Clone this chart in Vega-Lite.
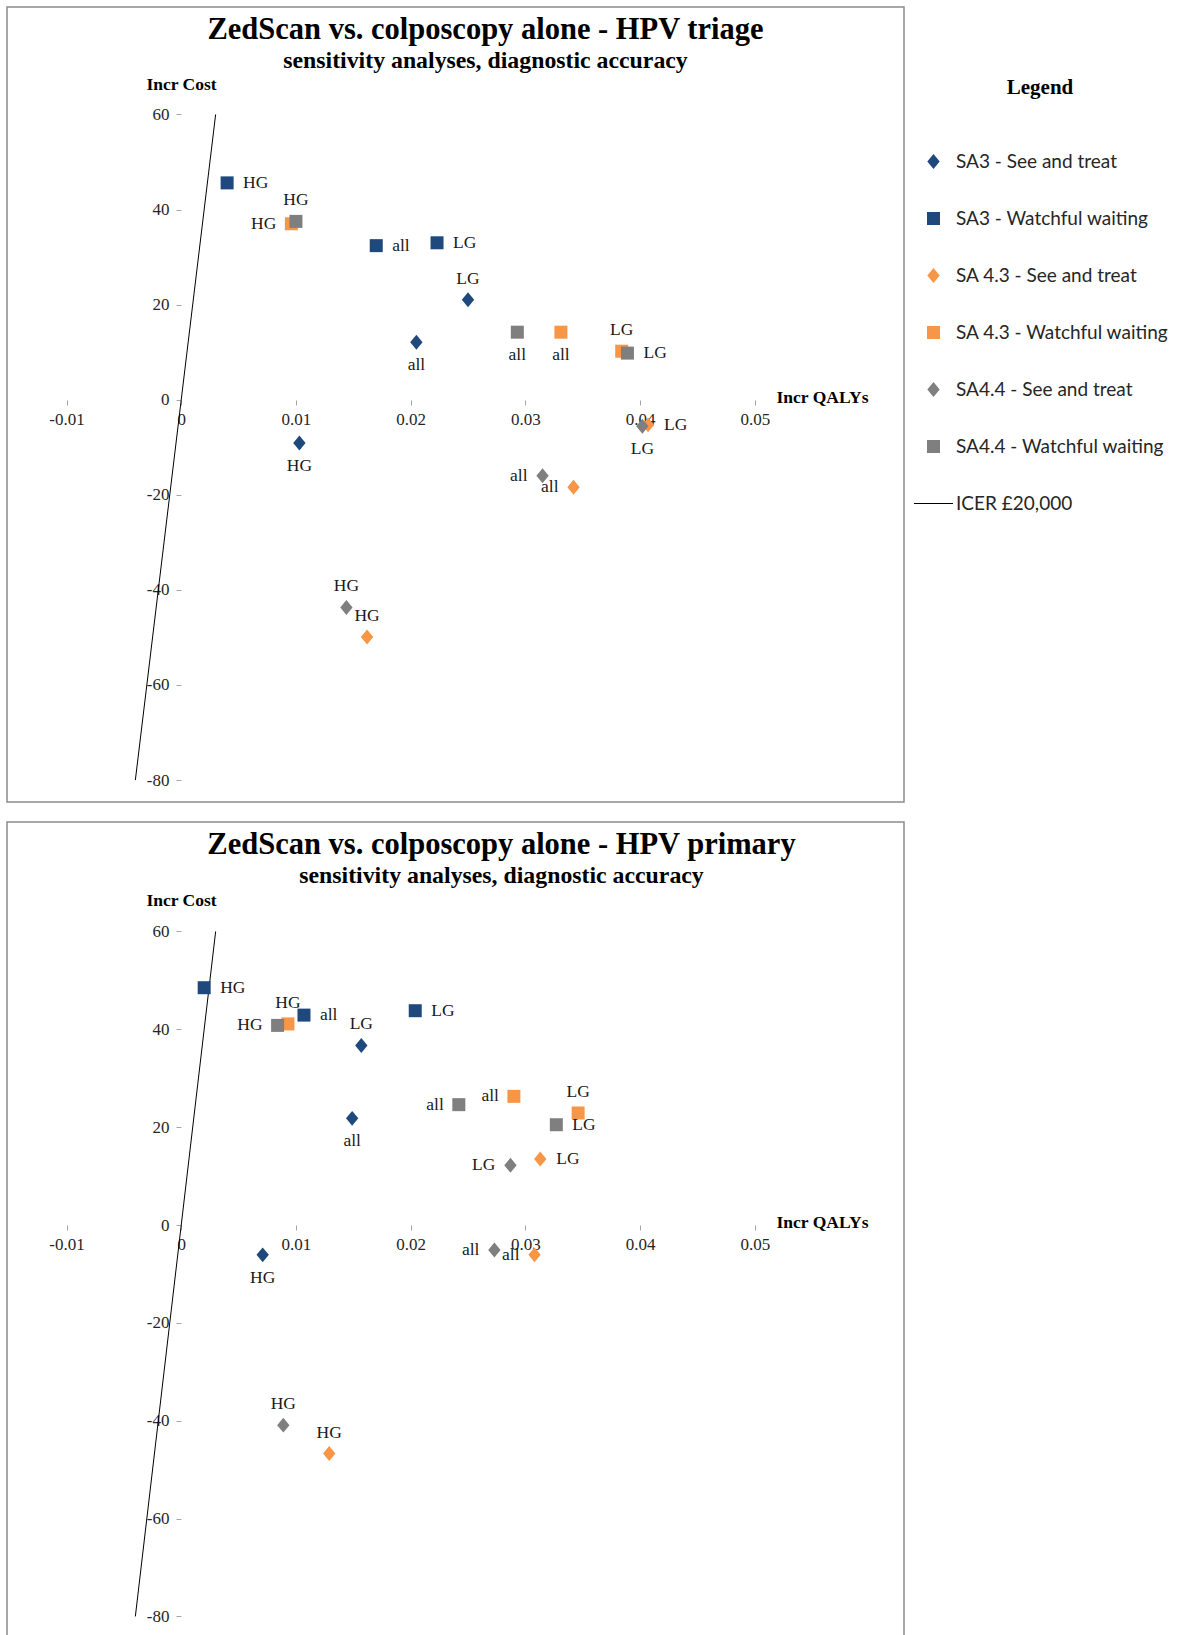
{
  "$schema": "https://vega.github.io/schema/vega-lite/v6.json",
  "background": "white",
  "padding": {"left": 6, "top": 6, "right": 5, "bottom": 0},
  "spacing": 18,
  "datasets": {
    "triage": [
      {"series": "SA3 - See and treat", "grade": "LG", "qaly": 0.0250, "cost": 21.0},
      {"series": "SA3 - See and treat", "grade": "all", "qaly": 0.0205, "cost": 12.1},
      {"series": "SA3 - See and treat", "grade": "HG", "qaly": 0.0103, "cost": -9.1},
      {"series": "SA3 - Watchful waiting", "grade": "HG", "qaly": 0.0040, "cost": 45.6},
      {"series": "SA3 - Watchful waiting", "grade": "all", "qaly": 0.0170, "cost": 32.4},
      {"series": "SA3 - Watchful waiting", "grade": "LG", "qaly": 0.0223, "cost": 33.0},
      {"series": "SA 4.3 - See and treat", "grade": "LG", "qaly": 0.0407, "cost": -5.3},
      {"series": "SA 4.3 - See and treat", "grade": "all", "qaly": 0.0342, "cost": -18.4},
      {"series": "SA 4.3 - See and treat", "grade": "HG", "qaly": 0.0162, "cost": -49.9},
      {"series": "SA 4.3 - Watchful waiting", "grade": "HG", "qaly": 0.0096, "cost": 37.0},
      {"series": "SA 4.3 - Watchful waiting", "grade": "all", "qaly": 0.0331, "cost": 14.2},
      {"series": "SA 4.3 - Watchful waiting", "grade": "LG", "qaly": 0.0384, "cost": 10.2},
      {"series": "SA4.4 - See and treat", "grade": "LG", "qaly": 0.0402, "cost": -5.6},
      {"series": "SA4.4 - See and treat", "grade": "all", "qaly": 0.0315, "cost": -16.0},
      {"series": "SA4.4 - See and treat", "grade": "HG", "qaly": 0.0144, "cost": -43.7},
      {"series": "SA4.4 - Watchful waiting", "grade": "HG", "qaly": 0.0100, "cost": 37.5},
      {"series": "SA4.4 - Watchful waiting", "grade": "all", "qaly": 0.0293, "cost": 14.2},
      {"series": "SA4.4 - Watchful waiting", "grade": "LG", "qaly": 0.0389, "cost": 9.8}
    ],
    "primary": [
      {"series": "SA3 - See and treat", "grade": "LG", "qaly": 0.0157, "cost": 36.7},
      {"series": "SA3 - See and treat", "grade": "all", "qaly": 0.0149, "cost": 21.8},
      {"series": "SA3 - See and treat", "grade": "HG", "qaly": 0.0071, "cost": -6.1},
      {"series": "SA3 - Watchful waiting", "grade": "HG", "qaly": 0.0020, "cost": 48.5},
      {"series": "SA3 - Watchful waiting", "grade": "all", "qaly": 0.0107, "cost": 42.9},
      {"series": "SA3 - Watchful waiting", "grade": "LG", "qaly": 0.0204, "cost": 43.8},
      {"series": "SA 4.3 - See and treat", "grade": "LG", "qaly": 0.0313, "cost": 13.5},
      {"series": "SA 4.3 - See and treat", "grade": "all", "qaly": 0.0308, "cost": -6.1},
      {"series": "SA 4.3 - See and treat", "grade": "HG", "qaly": 0.0129, "cost": -46.7},
      {"series": "SA 4.3 - Watchful waiting", "grade": "HG", "qaly": 0.0093, "cost": 41.1},
      {"series": "SA 4.3 - Watchful waiting", "grade": "all", "qaly": 0.0290, "cost": 26.3},
      {"series": "SA 4.3 - Watchful waiting", "grade": "LG", "qaly": 0.0346, "cost": 22.9},
      {"series": "SA4.4 - See and treat", "grade": "LG", "qaly": 0.0287, "cost": 12.2},
      {"series": "SA4.4 - See and treat", "grade": "all", "qaly": 0.0273, "cost": -5.1},
      {"series": "SA4.4 - See and treat", "grade": "HG", "qaly": 0.0089, "cost": -40.9},
      {"series": "SA4.4 - Watchful waiting", "grade": "HG", "qaly": 0.0084, "cost": 40.8},
      {"series": "SA4.4 - Watchful waiting", "grade": "all", "qaly": 0.0242, "cost": 24.6},
      {"series": "SA4.4 - Watchful waiting", "grade": "LG", "qaly": 0.0327, "cost": 20.5}
    ],
    "icer": [
      {"qaly": -0.004, "cost": -80},
      {"qaly": 0.003, "cost": 60}
    ]
  },
  "config": {
    "view": {"stroke": "#8c8c8c", "strokeWidth": 1.5},
    "axis": {
      "domain": false, "grid": false, "ticks": true, "tickColor": "#a6a6a6", "tickSize": 5, "tickWidth": 1,
      "labelFont": "Liberation Serif", "labelFontSize": 17, "labelColor": "#262626",
      "labelOverlap": false, "labelFlush": false,
      "titleFont": "Liberation Serif", "titleFontSize": 17.5, "titleFontWeight": "bold", "titleColor": "#000000"
    },
    "axisX": {"labelPadding": 6},
    "axisY": {"labelPadding": 7},
    "legend": {
      "padding": 0,
      "titleFont": "Liberation Serif", "titleFontSize": 21, "titleFontWeight": "bold", "titleColor": "#000000",
      "titlePadding": 54, "titleAnchor": "middle",
      "labelFont": "Lato", "labelFontSize": 19, "labelColor": "#262626", "labelOffset": 13, "labelLimit": 400,
      "rowPadding": 37, "symbolSize": 169, "symbolOpacity": 1, "symbolStrokeWidth": 0
    }
  },
  "resolve": {"scale": {"x": "independent", "y": "independent", "color": "shared", "shape": "shared"}},
  "vconcat": [
    {
      "width": 897,
      "height": 795,
      "title": {
        "text": "ZedScan vs. colposcopy alone - HPV triage",
        "subtitle": "sensitivity analyses, diagnostic accuracy",
        "anchor": "middle", "frame": "group", "dx": 30, "offset": -66,
        "font": "Liberation Serif", "fontSize": 30.5, "fontWeight": "bold", "color": "#000000",
        "subtitleFont": "Liberation Serif", "subtitleFontSize": 23.8, "subtitleFontWeight": "bold", "subtitleColor": "#000000",
        "subtitlePadding": 4
      },
      "data": {"name": "triage"},
      "encoding": {
        "x": {
          "field": "qaly", "type": "quantitative",
          "scale": {"domain": [-0.01519, 0.06301], "nice": false, "zero": false},
          "axis": {
            "offset": -402, "values": [-0.01, 0, 0.01, 0.02, 0.03, 0.04, 0.05],
            "labelExpr": "datum.value == 0 ? '0' : (datum.value < 0 ? '-' : '') + format(abs(datum.value), '.2f')",
            "title": "Incr QALYs", "titleAngle": 0, "titleX": 815, "titleY": -3, "titleAlign": "center", "titleBaseline": "middle"
          }
        },
        "y": {
          "field": "cost", "type": "quantitative",
          "scale": {"domain": [-84.61, 82.59], "nice": false, "zero": false},
          "axis": {
            "offset": -174, "values": [-80, -60, -40, -20, 0, 20, 40, 60],
            "labelExpr": "(datum.value < 0 ? '-' : '') + abs(datum.value)",
            "title": "Incr Cost", "titleAngle": 0, "titleX": 0, "titleY": 77, "titleAlign": "center", "titleBaseline": "middle"
          }
        }
      },
      "layer": [
        {
          "data": {"values": [{}]},
          "mark": {"type": "rule", "color": "#a6a6a6", "strokeWidth": 1},
          "encoding": {"x": {"datum": -0.01}, "x2": {"datum": 0.05}, "y": {"datum": 0}}
        },
        {
          "data": {"values": [{}]},
          "mark": {"type": "rule", "color": "#a6a6a6", "strokeWidth": 1},
          "encoding": {"x": {"datum": 0}, "y": {"datum": -80}, "y2": {"datum": 60}}
        },
        {
          "data": {"name": "icer"},
          "mark": {"type": "line", "color": "#000000", "strokeWidth": 1},
          "encoding": {}
        },
        {
          "mark": {"type": "point", "filled": true, "size": 169, "opacity": 1},
          "encoding": {
            "color": {
              "field": "series", "type": "nominal", "title": "Legend",
              "scale": {
                "domain": ["SA3 - See and treat", "SA3 - Watchful waiting", "SA 4.3 - See and treat", "SA 4.3 - Watchful waiting", "SA4.4 - See and treat", "SA4.4 - Watchful waiting", "ICER £20,000"],
                "range": ["#1F497D", "#1F497D", "#F79646", "#F79646", "#7F7F7F", "#7F7F7F", "#000000"]
              },
              "legend": {"orient": "none", "legendX": 917, "legendY": 70, "encode": {"title": {"update": {"dx": {"value": -6}}}}}
            },
            "shape": {
              "field": "series", "type": "nominal", "title": "Legend",
              "scale": {
                "domain": ["SA3 - See and treat", "SA3 - Watchful waiting", "SA 4.3 - See and treat", "SA 4.3 - Watchful waiting", "SA4.4 - See and treat", "SA4.4 - Watchful waiting", "ICER £20,000"],
                "range": ["M0,-1.15L0.95,0L0,1.15L-0.95,0Z", "square", "M0,-1.15L0.95,0L0,1.15L-0.95,0Z", "square", "M0,-1.15L0.95,0L0,1.15L-0.95,0Z", "square", "M-3,-0.08L3,-0.08L3,0.08L-3,0.08Z"]
              },
              "legend": {"orient": "none", "legendX": 917, "legendY": 70, "encode": {"title": {"update": {"dx": {"value": -6}}}}}
            }
          }
        },
        {
          "transform": [{"filter": "indexof(['SA3 - Watchful waiting|HG','SA3 - Watchful waiting|all','SA3 - Watchful waiting|LG','SA4.4 - Watchful waiting|LG','SA 4.3 - See and treat|LG'], datum.series + '|' + datum.grade) >= 0"}],
          "mark": {"type": "text", "align": "left", "baseline": "middle", "dx": 16, "font": "Liberation Serif", "fontSize": 17.5, "color": "#1a1a1a"},
          "encoding": {"text": {"field": "grade"}}
        },
        {
          "transform": [{"filter": "indexof(['SA 4.3 - Watchful waiting|HG','SA4.4 - See and treat|all','SA 4.3 - See and treat|all'], datum.series + '|' + datum.grade) >= 0"}],
          "mark": {"type": "text", "align": "right", "baseline": "middle", "dx": -15, "font": "Liberation Serif", "fontSize": 17.5, "color": "#1a1a1a"},
          "encoding": {"text": {"field": "grade"}}
        },
        {
          "transform": [{"filter": "indexof(['SA4.4 - Watchful waiting|HG','SA3 - See and treat|LG','SA 4.3 - Watchful waiting|LG','SA4.4 - See and treat|HG','SA 4.3 - See and treat|HG'], datum.series + '|' + datum.grade) >= 0"}],
          "mark": {"type": "text", "align": "center", "baseline": "middle", "dy": -21, "font": "Liberation Serif", "fontSize": 17.5, "color": "#1a1a1a"},
          "encoding": {"text": {"field": "grade"}}
        },
        {
          "transform": [{"filter": "indexof(['SA3 - See and treat|all','SA4.4 - Watchful waiting|all','SA 4.3 - Watchful waiting|all','SA3 - See and treat|HG','SA4.4 - See and treat|LG'], datum.series + '|' + datum.grade) >= 0"}],
          "mark": {"type": "text", "align": "center", "baseline": "middle", "dy": 23, "font": "Liberation Serif", "fontSize": 17.5, "color": "#1a1a1a"},
          "encoding": {"text": {"field": "grade"}}
        }
      ]
    },
    {
      "width": 897,
      "height": 817,
      "title": {
        "text": "ZedScan vs. colposcopy alone - HPV primary",
        "subtitle": "sensitivity analyses, diagnostic accuracy",
        "anchor": "middle", "frame": "group", "dx": 46, "offset": -66,
        "font": "Liberation Serif", "fontSize": 30.5, "fontWeight": "bold", "color": "#000000",
        "subtitleFont": "Liberation Serif", "subtitleFontSize": 23.8, "subtitleFontWeight": "bold", "subtitleColor": "#000000",
        "subtitlePadding": 4
      },
      "data": {"name": "primary"},
      "encoding": {
        "x": {
          "field": "qaly", "type": "quantitative",
          "scale": {"domain": [-0.01519, 0.06301], "nice": false, "zero": false},
          "axis": {
            "offset": -414, "values": [-0.01, 0, 0.01, 0.02, 0.03, 0.04, 0.05],
            "labelExpr": "datum.value == 0 ? '0' : (datum.value < 0 ? '-' : '') + format(abs(datum.value), '.2f')",
            "title": "Incr QALYs", "titleAngle": 0, "titleX": 815, "titleY": -3, "titleAlign": "center", "titleBaseline": "middle"
          }
        },
        "y": {
          "field": "cost", "type": "quantitative",
          "scale": {"domain": [-84.61, 82.37], "nice": false, "zero": false},
          "axis": {
            "offset": -174, "values": [-80, -60, -40, -20, 0, 20, 40, 60],
            "labelExpr": "(datum.value < 0 ? '-' : '') + abs(datum.value)",
            "title": "Incr Cost", "titleAngle": 0, "titleX": 0, "titleY": 78, "titleAlign": "center", "titleBaseline": "middle"
          }
        }
      },
      "layer": [
        {
          "data": {"values": [{}]},
          "mark": {"type": "rule", "color": "#a6a6a6", "strokeWidth": 1},
          "encoding": {"x": {"datum": -0.01}, "x2": {"datum": 0.05}, "y": {"datum": 0}}
        },
        {
          "data": {"values": [{}]},
          "mark": {"type": "rule", "color": "#a6a6a6", "strokeWidth": 1},
          "encoding": {"x": {"datum": 0}, "y": {"datum": -80}, "y2": {"datum": 60}}
        },
        {
          "data": {"name": "icer"},
          "mark": {"type": "line", "color": "#000000", "strokeWidth": 1},
          "encoding": {}
        },
        {
          "mark": {"type": "point", "filled": true, "size": 169, "opacity": 1},
          "encoding": {
            "color": {
              "field": "series", "type": "nominal", "title": "Legend",
              "scale": {
                "domain": ["SA3 - See and treat", "SA3 - Watchful waiting", "SA 4.3 - See and treat", "SA 4.3 - Watchful waiting", "SA4.4 - See and treat", "SA4.4 - Watchful waiting", "ICER £20,000"],
                "range": ["#1F497D", "#1F497D", "#F79646", "#F79646", "#7F7F7F", "#7F7F7F", "#000000"]
              },
              "legend": {"orient": "none", "legendX": 917, "legendY": 70, "encode": {"title": {"update": {"dx": {"value": -6}}}}}
            },
            "shape": {
              "field": "series", "type": "nominal", "title": "Legend",
              "scale": {
                "domain": ["SA3 - See and treat", "SA3 - Watchful waiting", "SA 4.3 - See and treat", "SA 4.3 - Watchful waiting", "SA4.4 - See and treat", "SA4.4 - Watchful waiting", "ICER £20,000"],
                "range": ["M0,-1.15L0.95,0L0,1.15L-0.95,0Z", "square", "M0,-1.15L0.95,0L0,1.15L-0.95,0Z", "square", "M0,-1.15L0.95,0L0,1.15L-0.95,0Z", "square", "M-3,-0.08L3,-0.08L3,0.08L-3,0.08Z"]
              },
              "legend": {"orient": "none", "legendX": 917, "legendY": 70, "encode": {"title": {"update": {"dx": {"value": -6}}}}}
            }
          }
        },
        {
          "transform": [{"filter": "indexof(['SA3 - Watchful waiting|HG','SA3 - Watchful waiting|all','SA3 - Watchful waiting|LG','SA4.4 - Watchful waiting|LG','SA 4.3 - See and treat|LG'], datum.series + '|' + datum.grade) >= 0"}],
          "mark": {"type": "text", "align": "left", "baseline": "middle", "dx": 16, "font": "Liberation Serif", "fontSize": 17.5, "color": "#1a1a1a"},
          "encoding": {"text": {"field": "grade"}}
        },
        {
          "transform": [{"filter": "indexof(['SA4.4 - Watchful waiting|HG','SA4.4 - Watchful waiting|all','SA 4.3 - Watchful waiting|all','SA4.4 - See and treat|LG','SA4.4 - See and treat|all','SA 4.3 - See and treat|all'], datum.series + '|' + datum.grade) >= 0"}],
          "mark": {"type": "text", "align": "right", "baseline": "middle", "dx": -15, "font": "Liberation Serif", "fontSize": 17.5, "color": "#1a1a1a"},
          "encoding": {"text": {"field": "grade"}}
        },
        {
          "transform": [{"filter": "indexof(['SA 4.3 - Watchful waiting|HG','SA3 - See and treat|LG','SA 4.3 - Watchful waiting|LG','SA4.4 - See and treat|HG','SA 4.3 - See and treat|HG'], datum.series + '|' + datum.grade) >= 0"}],
          "mark": {"type": "text", "align": "center", "baseline": "middle", "dy": -21, "font": "Liberation Serif", "fontSize": 17.5, "color": "#1a1a1a"},
          "encoding": {"text": {"field": "grade"}}
        },
        {
          "transform": [{"filter": "indexof(['SA3 - See and treat|all','SA3 - See and treat|HG'], datum.series + '|' + datum.grade) >= 0"}],
          "mark": {"type": "text", "align": "center", "baseline": "middle", "dy": 23, "font": "Liberation Serif", "fontSize": 17.5, "color": "#1a1a1a"},
          "encoding": {"text": {"field": "grade"}}
        }
      ]
    }
  ]
}
